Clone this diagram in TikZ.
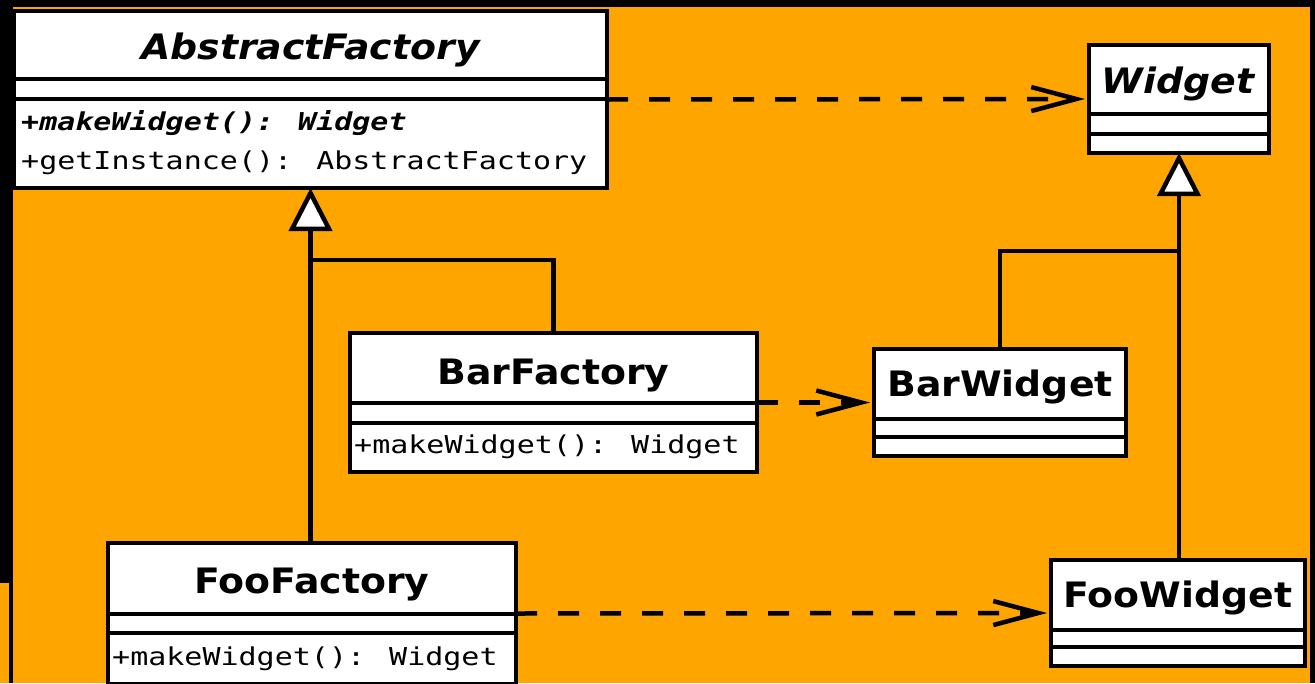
\documentclass[tikz,border=0pt]{standalone}
\usepackage{fontspec}
\usetikzlibrary{arrows.meta,calc}

% UML fonts: slightly widened DejaVu Sans / Sans Mono
\newfontfamily\umlsans{DejaVu Sans}[FakeStretch=1.08,
  BoldFont={DejaVu Sans Bold}, BoldItalicFont={DejaVu Sans Bold Oblique}]
\newfontfamily\umlmono{DejaVu Sans Mono}[FakeStretch=1.22,
  BoldFont={DejaVu Sans Mono Bold}, BoldItalicFont={DejaVu Sans Mono Bold Oblique}]

\definecolor{bgorange}{RGB}{255,165,0}

\tikzset{
  umlbox/.style={draw=black, line width=4.5pt, fill=white, inner sep=0pt, outer sep=0pt},
  divider/.style={draw=black, line width=4.2pt},
  classname/.style={anchor=base, inner sep=0pt,
    font=\umlsans\bfseries\fontsize{35pt}{42pt}\selectfont},
  member/.style={anchor=base west, inner sep=0pt,
    font=\umlmono\fontsize{24.6pt}{30pt}\selectfont},
  assoc/.style={draw=black, line width=4.5pt, line join=miter},
  inherit/.style={assoc, -{Triangle[length=43pt,width=43pt,fill=white]}},
  depend/.style={assoc, dash pattern=on 21pt off 21pt,
    -{Straight Barb[length=45pt,width=24pt]}, shorten >=4pt},
}

\begin{document}
\begin{tikzpicture}[x=1pt, y=-1pt]
  % framed background
  \fill[black] (0,0) rectangle (1315,683);
  \fill[bgorange] (12.5,7) rectangle (1310,683);
  \fill[bgorange] (0,583) rectangle (9,683);
  \useasboundingbox (0,0) rectangle (1315,683);

  % ---- class boxes ----
  \node[umlbox, minimum width=593pt, minimum height=177pt] (af) at (310.5,99.5) {};
  \draw[divider] (af.west |- 0,79) -- (af.east |- 0,79);
  \draw[divider] (af.west |- 0,99) -- (af.east |- 0,99);
  \node[classname] (afname) at (310.5,59) {\itshape AbstractFactory};
  \node[member] (afop1) at (21,130) {\bfseries\itshape +makeWidget(): Widget};
  \node[member] (afop2) at (21,169) {+getInstance(): AbstractFactory};

  \node[umlbox, minimum width=180pt, minimum height=108pt] (wd) at (1179,99) {};
  \draw[divider] (wd.west |- 0,114) -- (wd.east |- 0,114);
  \draw[divider] (wd.west |- 0,134) -- (wd.east |- 0,134);
  \node[classname] (wdname) at (1178,93) {\itshape Widget};

  \node[umlbox, minimum width=407pt, minimum height=139pt] (bf) at (553.5,402.5) {};
  \draw[divider] (bf.west |- 0,403) -- (bf.east |- 0,403);
  \draw[divider] (bf.west |- 0,423) -- (bf.east |- 0,423);
  \node[classname] (bfname) at (553.5,384) {BarFactory};
  \node[member] (bfop) at (354,453) {+makeWidget(): Widget};

  \node[umlbox, minimum width=252pt, minimum height=107pt] (bw) at (1000,402.5) {};
  \draw[divider] (bw.west |- 0,419) -- (bw.east |- 0,419);
  \draw[divider] (bw.west |- 0,437) -- (bw.east |- 0,437);
  \node[classname] (bwname) at (1000,396) {BarWidget};

  \node[umlbox, minimum width=408pt, minimum height=141pt] (ff) at (312,613.5) {};
  \draw[divider] (ff.west |- 0,614) -- (ff.east |- 0,614);
  \draw[divider] (ff.west |- 0,633) -- (ff.east |- 0,633);
  \node[classname] (ffname) at (312,593) {FooFactory};
  \node[member] (ffop) at (112,665) {+makeWidget(): Widget};

  \node[umlbox, minimum width=254pt, minimum height=106pt] (fw) at (1178,613) {};
  \draw[divider] (fw.west |- 0,630) -- (fw.east |- 0,630);
  \draw[divider] (fw.west |- 0,647) -- (fw.east |- 0,647);
  \node[classname] (fwname) at (1178,607) {FooWidget};

  % ---- generalisation ----
  \path (af.south) ++(0,72) coordinate (afjoin);
  \path (wd.south) ++(0,98) coordinate (wdjoin);
  \draw[inherit] (af.south |- ff.north) -- (af.south);
  \draw[assoc] (bf.north) |- (afjoin);
  \draw[inherit] (wd.south |- fw.north) -- (wd.south);
  \draw[assoc] (bw.north) |- (wdjoin);

  % ---- dependencies ----
  \draw[depend] (af.east) -- (wd.west);
  \draw[depend] (bf.east) -- (bw.west);
  \draw[depend] (ff.east) -- (fw.west);
\end{tikzpicture}
\end{document}
